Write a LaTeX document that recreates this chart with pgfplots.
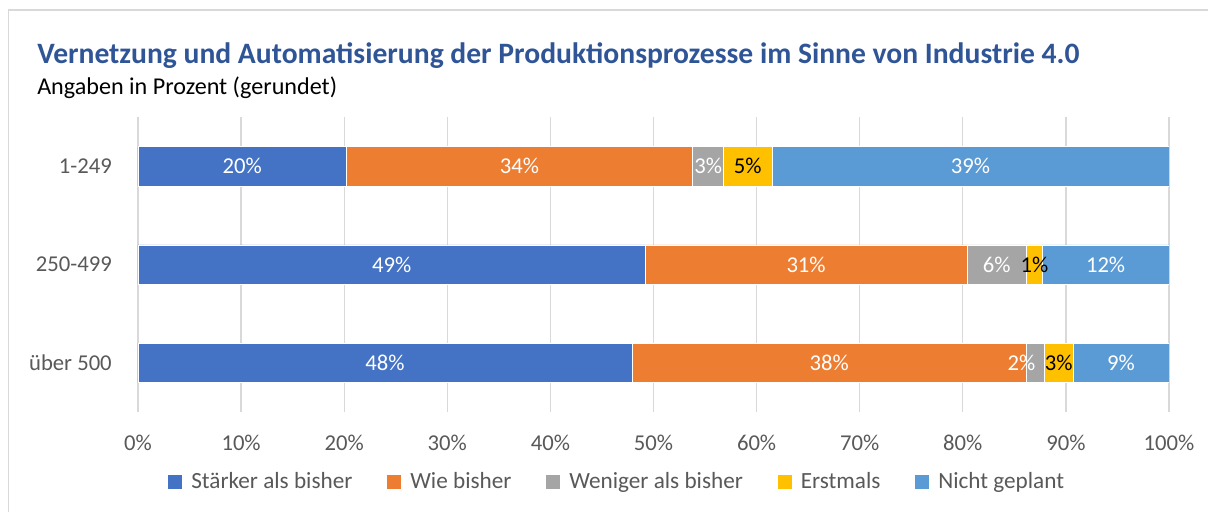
\documentclass[border=0pt]{standalone}
\usepackage{fontspec}
\setmainfont{Carlito}
\usepackage{pgfplots}
\pgfplotsset{compat=1.18}
\definecolor{cA}{HTML}{4472C4}
\definecolor{cB}{HTML}{ED7D31}
\definecolor{cC}{HTML}{A5A5A5}
\definecolor{cD}{HTML}{FFC000}
\definecolor{cE}{HTML}{5B9BD5}
\definecolor{titleblue}{HTML}{2F5597}
\definecolor{txtgray}{HTML}{595959}
\definecolor{gridgray}{HTML}{D9D9D9}
\newcommand\lbl{\fontsize{17}{20}\selectfont}
\newcommand\lgd{\fontsize{17.4}{20}\selectfont}
\begin{document}
\begin{tikzpicture}[x=0.75pt,y=0.75pt]
\path[use as bounding box] (0,0) rectangle (1208,512);
\draw[gridgray, line width=1.2pt] (8.5,0) -- (8.5,502) -- (1208,502);
\node[anchor=base west, inner sep=0pt, text=titleblue, font=\fontsize{22.2}{24}\selectfont\bfseries] at (37,449) {Vernetzung und Automatisierung der Produktionsprozesse im Sinne von Industrie 4.0};
\node[anchor=base west, inner sep=0pt, text=black, font=\fontsize{18.1}{20}\selectfont] at (37,418) {Angaben in Prozent (gerundet)};
\begin{axis}[
  at={(103.5pt,75pt)}, anchor=south west,
  scale only axis, width=773.25pt, height=221.25pt,
  xbar stacked, bar width=29.5pt,
  xmin=0, xmax=100, ymin=-0.5, ymax=2.5,
  ytick={0,1,2}, yticklabels={über 500,250-499,1-249},
  xtick={0,10,...,100},
  xticklabels={0\%,10\%,20\%,30\%,40\%,50\%,60\%,70\%,80\%,90\%,100\%},
  xmajorgrids, grid style={gridgray, line width=1pt},
  axis line style={draw=none}, tick style={draw=none},
  ticklabel style={font=\lbl, text=txtgray},
  xticklabel style={anchor=center, inner sep=0pt, yshift=-23.25pt},
  yticklabel style={anchor=east, inner sep=0pt, xshift=-19.5pt},
  nodes near coords, point meta=explicit symbolic,
  every node near coord/.append style={anchor=center, font=\lbl, color=white},
  legend style={at={(0.465,-0.236)}, anchor=center, legend columns=-1, draw=none,
     font=\lgd, text=txtgray,
     /tikz/every even column/.append style={column sep=24pt}},
  legend image code/.code={\path (0pt,0pt) -- (15pt,0pt);\draw[#1,draw=none] (0pt,-5.25pt) rectangle (10.5pt,5.25pt);},
]
\addplot[fill=cA, draw=white, line width=0.4pt] coordinates {(47.9,0)[48\%] (49.2,1)[49\%] (20.2,2)[20\%]};
\addplot[fill=cB, draw=white, line width=0.4pt] coordinates {(38.3,0)[38\%] (31.2,1)[31\%] (33.6,2)[34\%]};
\addplot[fill=cC, draw=white, line width=0.4pt, visualization depends on={y \as \yy},
  every node near coord/.append style={xshift={-10.5*(\yy<0.5)}}] coordinates {(1.7,0)[2\%] (5.8,1)[6\%] (3.0,2)[3\%]};
\addplot[fill=cD, draw=white, line width=0.4pt, every node near coord/.append style={color=black}] coordinates {(2.8,0)[3\%] (1.5,1)[1\%] (4.7,2)[5\%]};
\addplot[fill=cE, draw=white, line width=0.4pt] coordinates {(9.3,0)[9\%] (12.3,1)[12\%] (38.5,2)[39\%]};
\legend{Stärker als bisher, Wie bisher, Weniger als bisher, Erstmals, Nicht geplant}
\end{axis}
\end{tikzpicture}
\end{document}
